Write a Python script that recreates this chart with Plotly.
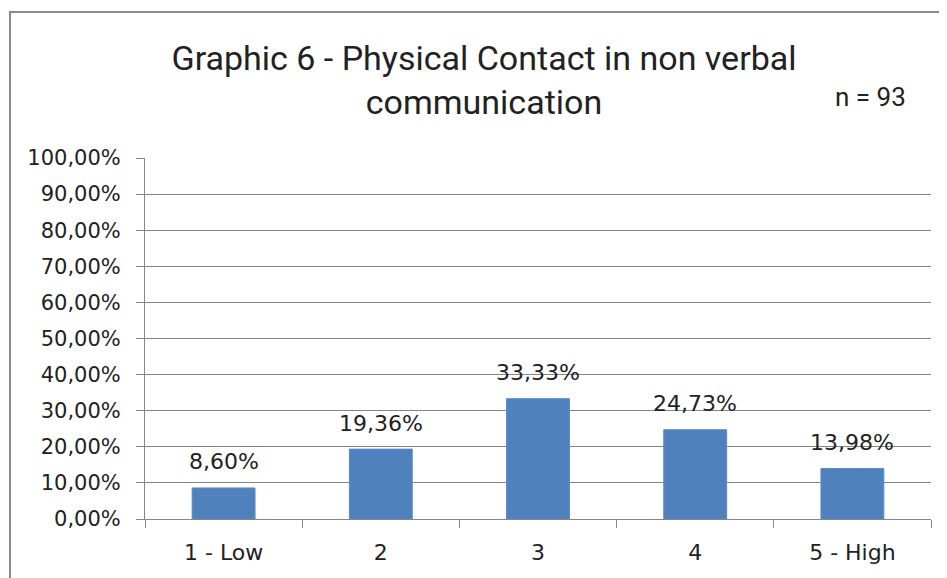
import plotly.graph_objects as go

categories = ["1 - Low", "2", "3", "4", "5 - High"]
percent_values = [8.60, 19.36, 33.33, 24.73, 13.98]
y_ticks = [0, 10, 20, 30, 40, 50, 60, 70, 80, 90, 100]


def pt_percent(v):
    # comma decimal separator, as in the original spreadsheet
    return f"{v:.2f}%".replace(".", ",")


fig = go.Figure(
    go.Bar(
        x=categories,
        y=percent_values,
        marker=dict(color="#4F81BD", line=dict(color="#5B8BC6", width=1)),
        width=0.4,
    )
)

# the html body adds an 8px offset, so the plot area (page px 145..931, 158..519)
# sits at 137..923 / 150..511 inside the figure
pw, ph = 786, 361

# "2", "3", "4" would be read as positions, so place labels by category index
label_notes = [
    dict(
        text=pt_percent(v),
        x=i,
        y=v,
        xref="x",
        yref="y",
        yshift=26,
        yanchor="middle",
        showarrow=False,
        font=dict(size=22, family="DejaVu Sans, sans-serif", color="#222222"),
    )
    for i, v in enumerate(percent_values)
]

fig.update_layout(
    width=947,
    height=578,
    margin=dict(l=137, r=24, t=150, b=67),
    paper_bgcolor="white",
    plot_bgcolor="white",
    font=dict(family="Roboto, sans-serif", color="#222222"),
    showlegend=False,
    title=dict(
        text="Graphic 6 - Physical Contact in non verbal<br>communication",
        x=476 / 947,
        xanchor="center",
        y=1 - 62 / 578,
        yanchor="middle",
        font=dict(size=34, family="Roboto, sans-serif", color="#222222"),
    ),
    xaxis=dict(
        type="category",
        automargin=False,
        showline=True,
        linecolor="#868686",
        ticks="outside",
        ticklen=8,
        tickcolor="#868686",
        tickson="boundaries",
        ticklabelstandoff=14,
        tickfont=dict(size=22, family="DejaVu Sans, sans-serif", color="#222222"),
        showgrid=False,
    ),
    yaxis=dict(
        automargin=False,
        range=[0, 100],
        tickvals=y_ticks,
        ticktext=[pt_percent(v) for v in y_ticks],
        showline=True,
        linecolor="#868686",
        ticks="outside",
        ticklen=8,
        tickcolor="#868686",
        ticklabelstandoff=11,
        showgrid=True,
        gridcolor="#868686",
        gridwidth=1,
        tickfont=dict(size=21, family="DejaVu Sans, sans-serif", color="#222222"),
        zeroline=False,
    ),
    annotations=label_notes
    + [
        dict(
            text="n = 93",
            xref="paper",
            yref="paper",
            x=(870 - 145) / pw,
            y=(519 - 97) / ph,
            xanchor="center",
            yanchor="middle",
            showarrow=False,
            font=dict(size=26, family="Roboto, sans-serif", color="#222222"),
        )
    ],
    shapes=[
        dict(
            type="rect",
            xref="paper",
            yref="paper",
            x0=(2 - 137) / pw,
            x1=(960 - 145) / pw,
            y0=(519 - 600) / ph,
            y1=(519 - 12) / ph,
            line=dict(color="#8a8a8a", width=2),
            layer="below",
        )
    ],
)

fig.write_html("out.html")
